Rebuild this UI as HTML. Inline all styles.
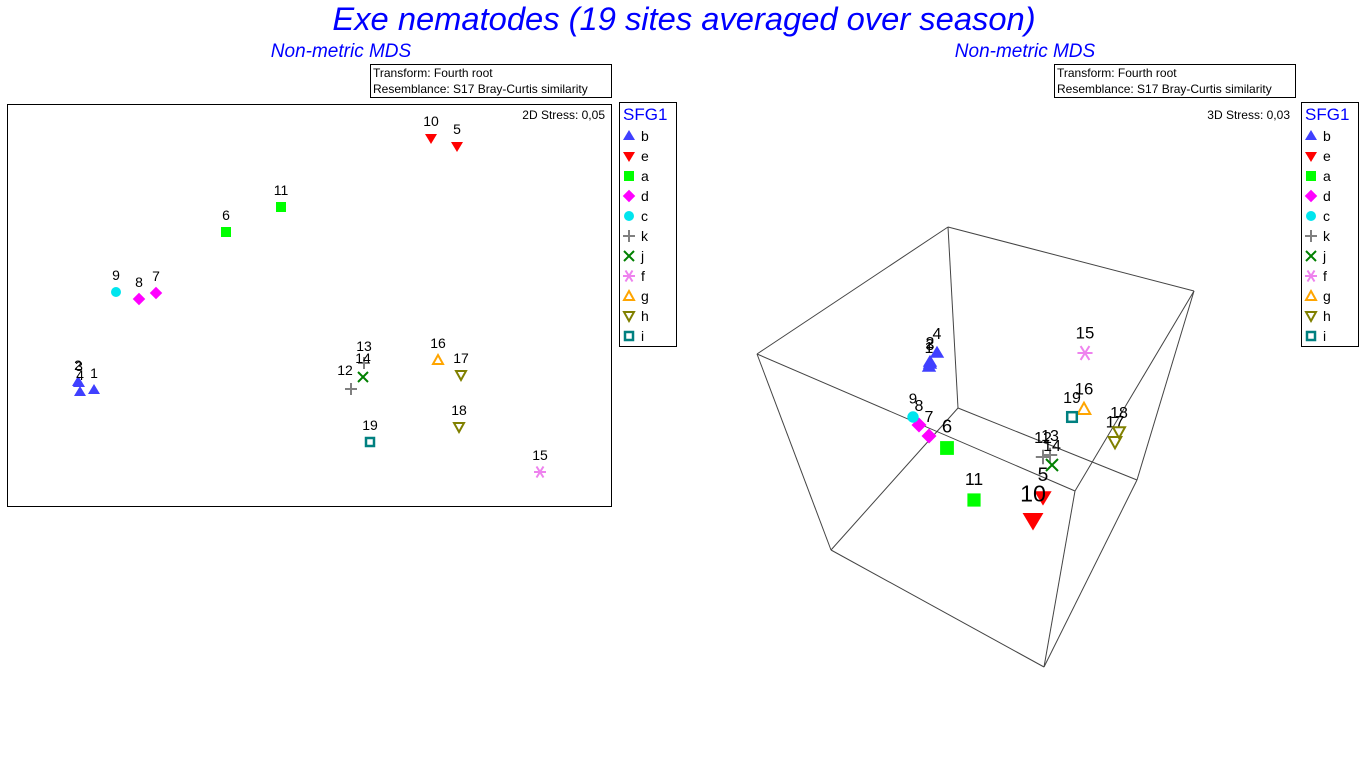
<!DOCTYPE html>
<html><head><meta charset="utf-8"><style>
body{margin:0;background:#fff;width:1366px;height:768px;overflow:hidden;font-family:"Liberation Sans",sans-serif}
svg{position:absolute;left:0;top:0}
</style></head><body>
<svg id="c" width="1366" height="768" xmlns="http://www.w3.org/2000/svg">
<text x="684" y="30" text-anchor="middle" font-size="32.7" font-style="italic" fill="#0000ff">Exe nematodes (19 sites averaged over season)</text>
<text x="341" y="57" text-anchor="middle" font-size="19" font-style="italic" fill="#0000ff">Non-metric MDS</text>
<text x="1025" y="57" text-anchor="middle" font-size="19" font-style="italic" fill="#0000ff">Non-metric MDS</text>
<g><rect x="370.5" y="64.5" width="241" height="33" fill="#fff" stroke="#000"/>
<text x="373" y="77" font-size="12">Transform: Fourth root</text><text x="373" y="93" font-size="12">Resemblance: S17 Bray-Curtis similarity</text></g>
<g><rect x="1054.5" y="64.5" width="241" height="33" fill="#fff" stroke="#000"/>
<text x="1057" y="77" font-size="12">Transform: Fourth root</text><text x="1057" y="93" font-size="12">Resemblance: S17 Bray-Curtis similarity</text></g>
<rect x="7.5" y="104.5" width="604" height="402" fill="none" stroke="#000"/>
<text x="605" y="119" text-anchor="end" font-size="12">2D Stress: 0,05</text>
<text x="1290" y="119" text-anchor="end" font-size="12">3D Stress: 0,03</text>
<g id="cube" stroke="#444" stroke-width="1" fill="none"></g>
<g id="g2d"></g><g id="g3d"></g><g id="leg"></g>
</svg>
<script>
const sites=["1","2","3","4","5","6","7","8","9","10","11","12","13","14","15","16","17","18","19"];
const groups=["b","b","b","b","e","a","d","d","c","e","a","k","k","j","f","g","h","h","i"];
const mdsX=[-1.08,-1.16,-1.155,-1.15,0.735,-0.42,-0.77,-0.855,-0.97,0.605,-0.145,0.205,0.27,0.265,1.15,0.64,0.755,0.745,0.30];
const mdsY=[-0.425,-0.385,-0.39,-0.435,0.795,0.365,0.06,0.03,0.065,0.835,0.49,-0.42,-0.29,-0.36,-0.835,-0.275,-0.35,-0.61,-0.685];
// 3D view projected coordinates
const v3X=[0.17,0.175,0.175,0.21,0.74,0.26,0.17,0.12,0.09,0.69,0.395,0.74,0.775,0.785,0.95,0.945,1.10,1.12,0.885];
const v3Y=[0.335,0.31,0.32,0.265,0.985,0.74,0.68,0.625,0.585,1.10,1.0,0.785,0.775,0.825,0.265,0.545,0.71,0.66,0.585];
const v3Depth=[1,1,1,1,1.2,1.15,1,1,0.95,1.45,1.1,1,1,1,1.05,1.05,1.05,1.0,1.0];
const legendKeys=["b","e","a","d","c","k","j","f","g","h","i"];
const NS="http://www.w3.org/2000/svg";
const sx=v=>310+v*200, sy=v=>305-v*200;
const tx=v=>895+v*200, ty=v=>300+v*200;
function el(tag,attrs,parent){const e=document.createElementNS(NS,tag);for(const k in attrs)e.setAttribute(k,attrs[k]);parent.appendChild(e);return e;}
function marker(g,x,y,s,p){
 const r=5*s;
 if(g==="b")el("path",{d:`M${x},${y-r*1.2} L${x+r*1.2},${y+r*0.8} L${x-r*1.2},${y+r*0.8}Z`,fill:"#4040ff"},p);
 else if(g==="e")el("path",{d:`M${x},${y+r*1.2} L${x+r*1.2},${y-r*0.8} L${x-r*1.2},${y-r*0.8}Z`,fill:"#ff0000"},p);
 else if(g==="a")el("rect",{x:x-r,y:y-r,width:2*r,height:2*r,fill:"#00ff00"},p);
 else if(g==="d")el("path",{d:`M${x},${y-r*1.25} L${x+r*1.25},${y} L${x},${y+r*1.25} L${x-r*1.25},${y}Z`,fill:"#ff00ff"},p);
 else if(g==="c")el("circle",{cx:x,cy:y,r:r,fill:"#00e5ee"},p);
 else if(g==="k")el("path",{d:`M${x-r*1.2},${y}H${x+r*1.2}M${x},${y-r*1.2}V${y+r*1.2}`,stroke:"#808080","stroke-width":2,fill:"none"},p);
 else if(g==="j")el("path",{d:`M${x-r},${y-r}L${x+r},${y+r}M${x+r},${y-r}L${x-r},${y+r}`,stroke:"#008000","stroke-width":2,fill:"none"},p);
 else if(g==="f")el("path",{d:`M${x-r*1.2},${y}H${x+r*1.2}M${x-r*0.7},${y-r*1.1}L${x+r*0.7},${y+r*1.1}M${x+r*0.7},${y-r*1.1}L${x-r*0.7},${y+r*1.1}`,stroke:"#ee82ee","stroke-width":2,fill:"none"},p);
 else if(g==="g")el("path",{d:`M${x},${y-r} L${x+r},${y+r*0.8} L${x-r},${y+r*0.8}Z`,stroke:"#ffa500","stroke-width":2,fill:"none"},p);
 else if(g==="h")el("path",{d:`M${x},${y+r} L${x+r},${y-r*0.8} L${x-r},${y-r*0.8}Z`,stroke:"#808000","stroke-width":2,fill:"none"},p);
 else if(g==="i")el("rect",{x:x-r*0.8,y:y-r*0.8,width:1.6*r,height:1.6*r,stroke:"#008080","stroke-width":2.5,fill:"none"},p);
}
const g2=document.getElementById("g2d");
sites.forEach((s,i)=>{
 const g=el("g",{},g2);
 
 
 const x=sx(mdsX[i]),y=sy(mdsY[i]);
 marker(groups[i],x,y,1,g);
 let lx=x,ly=y-12;
 if(s==="12"){lx=x-6;ly=y-14;} if(s==="14"){ly=y-14;}
 el("text",{x:lx,y:ly,"text-anchor":"middle","font-size":14},g).textContent=s;
});
// cube
const cube=document.getElementById("cube");
[[757,354,948,227],[948,227,1194,291],[1194,291,1075,491],[1075,491,757,354],
 [948,227,958,408],[757,354,831,550],[1075,491,1044,667],[1194,291,1137,480],
 [958,408,831,550],[831,550,1044,667],[1044,667,1137,480],[1137,480,958,408]].forEach(l=>{
 el("line",{x1:l[0],y1:l[1],x2:l[2],y2:l[3]},cube);});
const g3=document.getElementById("g3d");
sites.forEach((s,i)=>{
 const g=el("g",{},g3);
 
 
 const x=tx(v3X[i]),y=ty(v3Y[i]),d=v3Depth[i];
 marker(groups[i],x,y,1.2*d,g);
 el("text",{x:x,y:y-10*d-4,"text-anchor":"middle","font-size":16*d},g).textContent=s;
});
// legends
const leg=document.getElementById("leg");
[619,1301].forEach((lx,li)=>{
 const g=el("g",{},leg);
 
 
 el("rect",{x:lx+0.5,y:102.5,width:57,height:244,fill:"#fff",stroke:"#000"},g);
 el("text",{x:lx+4,y:120,"font-size":17,fill:"#0000ff"},g).textContent="SFG1";
 legendKeys.forEach((k,j)=>{
  const e=el("g",{},g);
  
  
  const y=136+j*20;
  marker(k,lx+10,y,1,e);
  el("text",{x:lx+22,y:y+5,"font-size":14},e).textContent=k;
 });
});
</script>
</body></html>
